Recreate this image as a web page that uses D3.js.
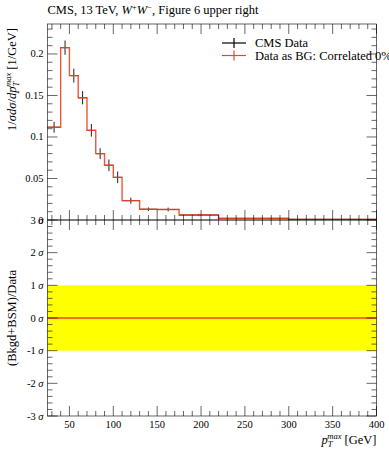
<!DOCTYPE html>
<html>
<head>
<meta charset="utf-8">
<script src="https://cdn.jsdelivr.net/npm/d3@7"></script>
<style>
body { margin: 0; background: #fff; }
text { font-family: "Liberation Serif", serif; }
</style>
</head>
<body>
<script>
// bin edges in GeV and normalised cross section per bin
var binEdges = [25, 40, 50, 60, 70, 80, 90, 100, 110, 130, 150, 175, 220, 300, 400];
var values = [0.1117, 0.2076, 0.1739, 0.1473, 0.108, 0.0799, 0.0659, 0.0514, 0.0233, 0.0129, 0.0127, 0.006, 0.002, 0.0008];
var errors = [0.0065, 0.0086, 0.0084, 0.008, 0.0076, 0.0066, 0.007, 0.007, 0.0036, 0.0022, 0.0022, 0.0014, 0.0006, 0.0003];
var xTicks = [50, 100, 150, 200, 250, 300, 350, 400];
var yTicks = [0.05, 0.1, 0.15, 0.2];
var yTickLabels = ["0.05", "0.1", "0.15", "0.2"];
var sigmaTicks = [-3, -2, -1, 0, 1, 2, 3];
var ratio = [0, 0, 0, 0, 0, 0, 0, 0, 0, 0, 0, 0, 0, 0];

var w = 389, h = 450;
var left = 47.5, right = 376.5;
var top1 = 24, bot1 = 220, top2 = 220, bot2 = 416;
var red = "#ee4422";

var svg = d3.select("body").append("svg")
    .attr("width", w).attr("height", h);

var x = d3.scaleLinear().domain([25, 400]).range([left, right]);
var y = d3.scaleLinear().domain([0, 0.2361]).range([bot1, top1]);
var ys = d3.scaleLinear().domain([-3, 3]).range([bot2, top2]);

var minorX = d3.range(30, 400, 10).filter(d => d % 50 != 0);

function ticksX(yy, dir) {
  svg.selectAll(null).data(xTicks).enter().append("line")
    .attr("x1", d => x(d)).attr("x2", d => x(d))
    .attr("y1", yy).attr("y2", yy + dir * 10)
    .attr("stroke", "#000").attr("stroke-width", 0.6);
  svg.selectAll(null).data(minorX).enter().append("line")
    .attr("x1", d => x(d)).attr("x2", d => x(d))
    .attr("y1", yy).attr("y2", yy + dir * 5)
    .attr("stroke", "#000").attr("stroke-width", 0.6);
}

function ticksY(scale, major, minor) {
  [[left, 1], [right, -1]].forEach(function(s) {
    svg.selectAll(null).data(major).enter().append("line")
      .attr("x1", s[0]).attr("x2", s[0] + s[1] * 10)
      .attr("y1", d => scale(d)).attr("y2", d => scale(d))
      .attr("stroke", "#000").attr("stroke-width", 0.6);
    svg.selectAll(null).data(minor).enter().append("line")
      .attr("x1", s[0]).attr("x2", s[0] + s[1] * 5)
      .attr("y1", d => scale(d)).attr("y2", d => scale(d))
      .attr("stroke", "#000").attr("stroke-width", 0.6);
  });
}

// p_T^max with sub and superscript
function ptMax(t, fs) {
  var s = fs * 0.68;
  t.append("tspan").attr("font-style", "italic").text("p");
  t.append("tspan").attr("font-style", "italic").attr("font-size", s).attr("dy", 3).text("T");
  t.append("tspan").attr("font-style", "italic").attr("font-size", s).attr("dx", -s * 0.6).attr("dy", -8).text("max");
  t.append("tspan").attr("dy", 5).text(" ");
}

// ---- upper panel ----
var centers = values.map((v, i) => (binEdges[i] + binEdges[i + 1]) / 2);

// data crosses
svg.selectAll(null).data(values).enter().append("line")
  .attr("x1", (d, i) => x(binEdges[i])).attr("x2", (d, i) => x(binEdges[i + 1]))
  .attr("y1", d => y(d)).attr("y2", d => y(d))
  .attr("stroke", "#000").attr("stroke-width", 1);
svg.selectAll(null).data(values).enter().append("line")
  .attr("x1", (d, i) => x(centers[i])).attr("x2", (d, i) => x(centers[i]))
  .attr("y1", (d, i) => y(d - errors[i])).attr("y2", (d, i) => y(d + errors[i]))
  .attr("stroke", "#222").attr("stroke-width", 1);

// red histogram
var stepPts = values.map((v, i) => [binEdges[i], v]);
stepPts.push([400, values[values.length - 1]]);
var step = d3.line().x(d => x(d[0])).y(d => y(d[1])).curve(d3.curveStepAfter);
svg.append("path").datum(stepPts)
  .attr("d", step).attr("fill", "none")
  .attr("stroke", red).attr("stroke-width", 1.4).attr("stroke-opacity", 0.9);

svg.append("rect").attr("x", left).attr("y", top1)
  .attr("width", right - left).attr("height", bot1 - top1)
  .attr("fill", "none").attr("stroke", "#000").attr("stroke-width", 0.6);
ticksX(bot1, -1);
ticksX(top1, 1);
ticksY(y, yTicks, d3.range(0.01, 0.236, 0.01).filter(d => Math.abs(d * 20 - Math.round(d * 20)) > 0.01));

svg.selectAll(null).data(yTicks).enter().append("text")
  .attr("x", left - 4).attr("y", d => y(d) + 3.5)
  .attr("text-anchor", "end").attr("font-size", 10.5)
  .text((d, i) => yTickLabels[i]);
svg.append("text").attr("x", left - 4).attr("y", bot1 + 3.5)
  .attr("text-anchor", "end").attr("font-size", 10.5).text("0");

// legend
var legend = [{label: "CMS Data", color: "#000"}, {label: "Data as BG: Correlated 0%", color: red}];
legend.forEach(function(l, i) {
  var ly = 43 + i * 12.5;
  svg.append("line").attr("x1", 222).attr("x2", 246).attr("y1", ly).attr("y2", ly)
    .attr("stroke", l.color).attr("stroke-width", 1.2);
  svg.append("line").attr("x1", 234).attr("x2", 234).attr("y1", ly - 5).attr("y2", ly + 5)
    .attr("stroke", l.color).attr("stroke-width", 1.2);
  svg.append("text").attr("x", 255).attr("y", ly + 4)
    .attr("font-size", 12.5).text(l.label);
});

// title
var title = svg.append("text").attr("x", left).attr("y", 14).attr("font-size", 12.5);
title.append("tspan").text("CMS, 13 TeV, ");
title.append("tspan").attr("font-style", "italic").text("W");
title.append("tspan").attr("font-size", 8.5).attr("dy", -4).text("+");
title.append("tspan").attr("font-style", "italic").attr("dy", 4).text("W");
title.append("tspan").attr("font-size", 8.5).attr("dy", -4).text("\u2212");
title.append("tspan").attr("dy", 4).text(", Figure 6 upper right");

// y label upper
var yl = svg.append("text").attr("transform", "translate(16," + (top1 + 4) + ") rotate(-90)")
  .attr("text-anchor", "end").attr("font-size", 12.5);
yl.append("tspan").text("1/");
yl.append("tspan").attr("font-style", "italic").text("\u03c3d\u03c3");
yl.append("tspan").text("/");
yl.append("tspan").attr("font-style", "italic").text("d");
ptMax(yl, 12.5);
yl.append("tspan").text("[1/GeV]");

// ---- lower panel ----
svg.append("rect").attr("x", left).attr("y", ys(1))
  .attr("width", right - left).attr("height", ys(-1) - ys(1))
  .attr("fill", "#ffff00");

var rline = d3.line().x(d => x(d[0])).y(d => ys(d[1])).curve(d3.curveStepAfter);
var rPts = ratio.map((v, i) => [binEdges[i], v]);
rPts.push([400, 0]);
svg.append("path").datum(rPts).attr("d", rline)
  .attr("fill", "none").attr("stroke", red).attr("stroke-width", 1.4);

svg.append("rect").attr("x", left).attr("y", top2)
  .attr("width", right - left).attr("height", bot2 - top2)
  .attr("fill", "none").attr("stroke", "#000").attr("stroke-width", 0.6);
ticksX(bot2, -1);
ticksX(top2, 1);
ticksY(ys, sigmaTicks, d3.range(-2.8, 3, 0.2).filter(d => Math.abs(d - Math.round(d)) > 0.01));

sigmaTicks.forEach(function(s) {
  var t = svg.append("text").attr("x", left - 4).attr("y", ys(s) + 3.5)
    .attr("text-anchor", "end").attr("font-size", 10.5);
  t.append("tspan").text((s < 0 ? "-" : "") + Math.abs(s) + " ");
  t.append("tspan").attr("font-style", "italic").text("\u03c3");
});

svg.selectAll(null).data(xTicks).enter().append("text")
  .attr("x", d => x(d)).attr("y", bot2 + 11.5)
  .attr("text-anchor", "middle").attr("font-size", 10.5).text(d => d);

svg.append("text").attr("transform", "translate(16," + ys(0) + ") rotate(-90)")
  .attr("text-anchor", "middle").attr("font-size", 12.5).text("(Bkgd+BSM)/Data");

var xl = svg.append("text").attr("x", right).attr("y", 444)
  .attr("text-anchor", "end").attr("font-size", 12.5);
ptMax(xl, 12.5);
xl.append("tspan").text("[GeV]");
</script>
</body>
</html>
